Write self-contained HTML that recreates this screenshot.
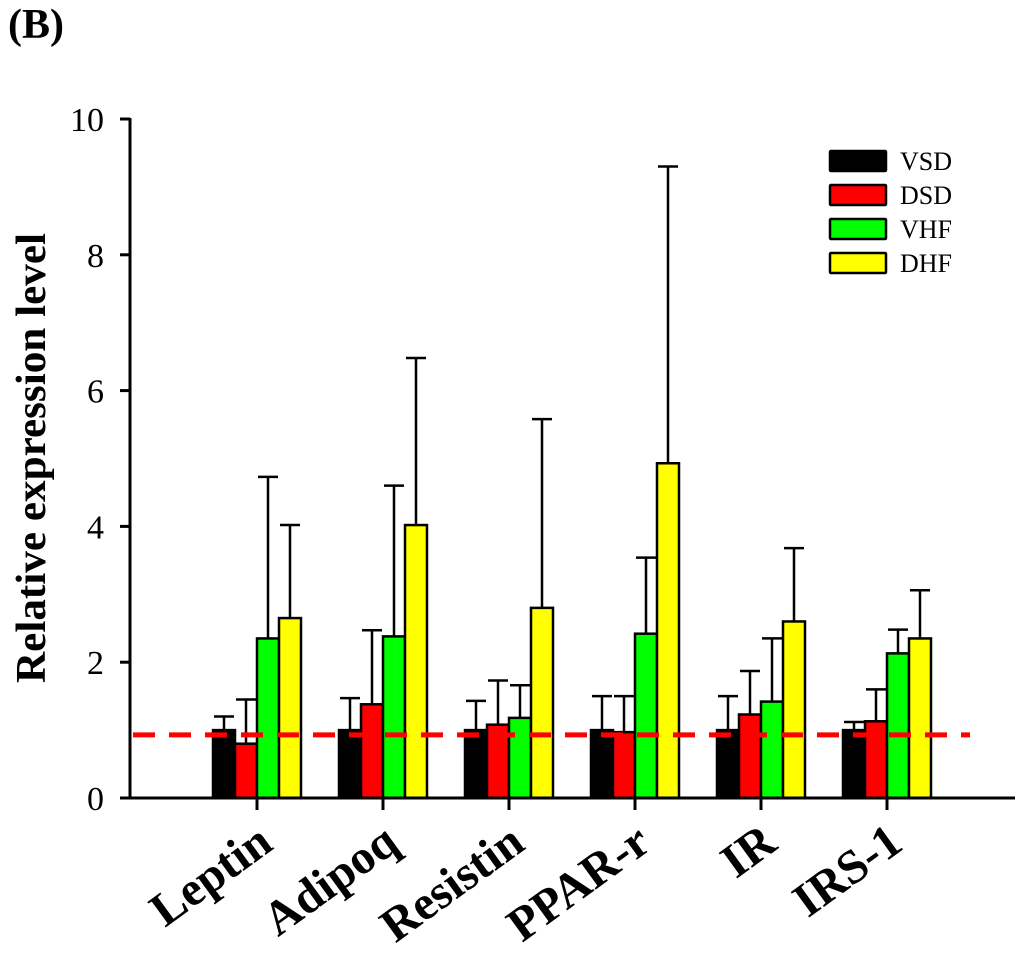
<!DOCTYPE html>
<html><head><meta charset="utf-8"><style>
html,body{margin:0;padding:0;background:#fff;}
svg{display:block;font-family:"Liberation Serif",serif;}
</style></head><body>
<svg id="chart" width="1024" height="954" viewBox="0 0 1024 954">
<text x="8" y="38" font-size="42" font-weight="bold">(B)</text>
<text transform="translate(45,458) rotate(-90)" text-anchor="middle" font-size="42" font-weight="bold" textLength="450" lengthAdjust="spacingAndGlyphs">Relative expression level</text>
<g id="plot"></g>
</svg>
<script>
const categories = ["Leptin","Adipoq","Resistin","PPAR-r","IR","IRS-1"];
const seriesNames = ["VSD","DSD","VHF","DHF"];
const seriesColors = ["#000000","#ff0000","#00ff00","#ffff00"];
const vsd = [1.0,1.0,1.0,1.0,1.0,1.0];
const dsd = [0.8,1.38,1.08,0.97,1.23,1.13];
const vhf = [2.35,2.38,1.18,2.42,1.42,2.13];
const dhf = [2.65,4.02,2.8,4.93,2.6,2.35];
const vsdErr = [1.2,1.47,1.43,1.5,1.5,1.12];
const dsdErr = [1.45,2.47,1.73,1.5,1.87,1.6];
const vhfErr = [4.73,4.6,1.66,3.54,2.35,2.48];
const dhfErr = [4.02,6.48,5.58,9.3,3.68,3.06];
const yTicks = [0,2,4,6,8,10];
const refLevel = 0.93;

const NS="http://www.w3.org/2000/svg";
const g=document.getElementById("plot");
const x0=130, xEnd=1015, yBase=798, yTop=119;
const y=v=>yBase-(v/10)*(yBase-yTop);
const groupCenter=i=>257+126*i;
const barW=22;
function mk(tag,attrs,parent){const e=document.createElementNS(NS,tag);for(const k in attrs)e.setAttribute(k,attrs[k]);(parent||g).appendChild(e);return e;}
const vals=[vsd,dsd,vhf,dhf], errs=[vsdErr,dsdErr,vhfErr,dhfErr];

categories.forEach((c,i)=>{
  const cx=groupCenter(i);
  vals.forEach((s,j)=>{
    const bx=cx-2*barW+j*barW;
    const e=errs[j][i];
    const ex=bx+barW/2;
    const el=mk("line",{x1:ex,x2:ex,y1:y(s[i]),y2:y(e),stroke:"#000","stroke-width":2.5});
    
    
    const cap=mk("line",{x1:ex-10,x2:ex+10,y1:y(e),y2:y(e),stroke:"#000","stroke-width":2.5});
    
    
    const r=mk("rect",{x:bx,y:y(s[i]),width:barW,height:y(0)-y(s[i]),fill:seriesColors[j],stroke:"#000","stroke-width":2.5});
    
    
  });
  const t=mk("line",{x1:cx,x2:cx,y1:yBase,y2:yBase+12,stroke:"#000","stroke-width":3});
  
  
  const lx=cx+18, ly=848;
  const lab=mk("text",{x:lx,y:ly,"text-anchor":"end","font-size":48,"font-weight":"bold",transform:`rotate(-36 ${lx} ${ly})`});
  lab.textContent=c;
  
  
});

const ref=mk("line",{x1:133,x2:970,y1:y(refLevel),y2:y(refLevel),stroke:"#ff0000","stroke-width":5,"stroke-dasharray":"22 14"});



const ya=mk("line",{x1:x0,x2:x0,y1:yTop-1,y2:yBase+1,stroke:"#000","stroke-width":3});


const xa=mk("line",{x1:120,x2:xEnd,y1:yBase,y2:yBase,stroke:"#000","stroke-width":3});


yTicks.forEach(v=>{
  const tk=mk("line",{x1:120,x2:x0,y1:y(v),y2:y(v),stroke:"#000","stroke-width":3});
  
  
  const tl=mk("text",{x:104,y:y(v)+12,"text-anchor":"end","font-size":34});
  tl.textContent=v;
  
  
});

seriesNames.forEach((n,j)=>{
  const ly=151+j*34;
  const b=mk("rect",{x:830,y:ly,width:56,height:20,fill:seriesColors[j],stroke:"#000","stroke-width":2.5,rx:1});
  
  
  const t=mk("text",{x:900,y:ly+19,"font-size":26});
  t.textContent=n;
  
  
});
</script>
</body></html>
